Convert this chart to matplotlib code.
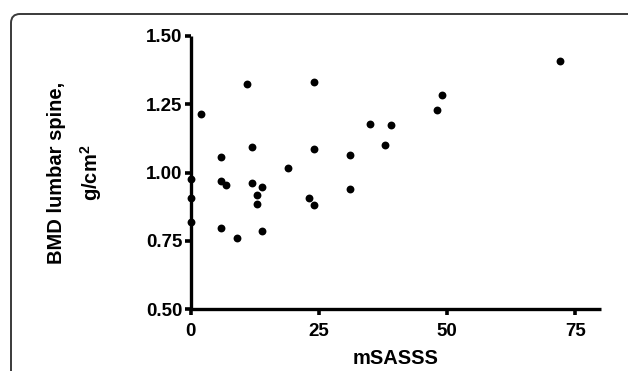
import numpy as np
import matplotlib
matplotlib.use('Agg')
import matplotlib.pyplot as plt
from matplotlib.patches import FancyBboxPatch
from matplotlib.transforms import IdentityTransform

plt.rcParams['font.family'] = ['Liberation Sans', 'DejaVu Sans']
plt.rcParams['font.weight'] = 'bold'
plt.rcParams['mathtext.fontset'] = 'custom'
plt.rcParams['mathtext.bf'] = 'Liberation Sans:bold'
plt.rcParams['mathtext.rm'] = 'Liberation Sans:bold'

# mSASSS score vs lumbar spine BMD
msasss = [72, 11, 24, 2, 49, 48, 35, 39, 38, 12, 24, 6, 31, 19, 0,
          6, 7, 12, 14, 13, 31, 0, 23, 13, 24, 0, 6, 14, 9]
bmd = [1.408, 1.323, 1.331, 1.213, 1.284, 1.227, 1.177, 1.174, 1.101,
       1.094, 1.087, 1.057, 1.064, 1.015, 0.978, 0.968, 0.954, 0.963,
       0.947, 0.918, 0.940, 0.907, 0.905, 0.885, 0.880, 0.818, 0.797,
       0.786, 0.759]
xticks = [0, 25, 50, 75]
yticks = [0.50, 0.75, 1.00, 1.25, 1.50]

fig = plt.figure(figsize=(6.28, 3.71), dpi=100)
ax = fig.add_axes([190.5/628, 1-309.3/371, (601-190.5)/628, (309.3-35.7)/371])

# rounded frame around the figure panel
frame = FancyBboxPatch((11, -30), 700, 371-14+30, boxstyle='round,pad=0,rounding_size=9',
                       transform=IdentityTransform(), fill=False, edgecolor='#3a3a3a',
                       linewidth=1.4)
fig.patches.append(frame)

ax.scatter(msasss, bmd, s=32, color='black', zorder=1, clip_on=False, linewidths=0)

ax.set_xlim(0, 80)
ax.set_ylim(0.5, 1.5)
ax.set_xticks(xticks)
ax.set_yticks(yticks)
ax.set_yticklabels(['%.2f' % v for v in yticks])

for s in ['top', 'right']:
    ax.spines[s].set_visible(False)
for s in ['left', 'bottom']:
    ax.spines[s].set_linewidth(2.4)
    ax.spines[s].set_capstyle('butt')

ax.tick_params(axis='both', length=4, width=2.6, labelsize=13.5)
ax.tick_params(axis='x', pad=6)
ax.tick_params(axis='y', pad=2)
for lab in ax.get_xticklabels() + ax.get_yticklabels():
    lab.set_fontweight('bold')

ax.set_xlabel('mSASSS', fontsize=14.5, fontweight='bold', labelpad=6)

# y label in two lines
ymid = 1 - 172.5/371
fig.text(57/628, ymid, 'BMD lumbar spine,', rotation=90, ha='center', va='center',
         fontsize=14.5, fontweight='bold')
fig.text(91/628, ymid, 'g/cm$^{\\mathbf{2}}$', rotation=90, ha='center', va='center',
         fontsize=14.5, fontweight='bold')

fig.savefig('out.png', dpi=100)
